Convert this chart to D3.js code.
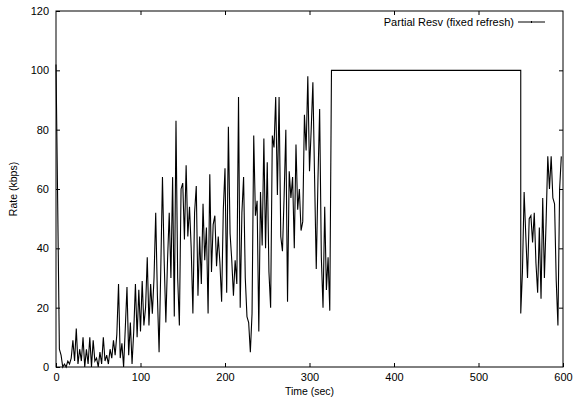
<!DOCTYPE html>
<html>
<head>
<meta charset="utf-8">
<script src="https://cdn.jsdelivr.net/npm/d3@7"></script>
<style>
    body { margin: 0; background: #fff; }
    text { font-family: "Liberation Sans", Arial, sans-serif; font-size: 11px; fill: #000; }
</style>
</head>
<body>
<svg width="573" height="404"></svg>
<script>
// Rate samples (kbps), every 2 sec starting at t = 0
var burstRates = [102, 55, 6, 4, 0, 1, 0, 2, 1, 3, 9, 2, 13, 1, 6, 2, 10, 0, 6, 1,
    10, 0, 9, 2, 3, 0, 5, 1, 10, 2, 4, 1, 6, 3, 9, 4, 11, 28, 3, 8,
    0, 13, 27, 4, 15, 1, 12, 28, 10, 26, 12, 29, 14, 20, 37, 14, 28, 18, 30, 52,
    24, 5, 33, 64, 36, 15, 36, 52, 30, 64, 17, 83, 30, 14, 60, 62, 43, 68, 44, 54,
    40, 18, 52, 61, 24, 44, 28, 55, 36, 47, 18, 65, 32, 48, 51, 34, 44, 35, 22, 53,
    67, 25, 81, 45, 36, 24, 36, 28, 91, 20, 52, 64, 30, 17, 15, 5, 18, 78, 51, 56,
    12, 59, 41, 77, 40, 69, 32, 20, 78, 74, 91, 58, 91, 44, 39, 58, 80, 22, 66, 57,
    64, 40, 75, 53, 60, 46, 49, 85, 73, 98, 66, 80, 96, 64, 33, 63, 87, 37, 20, 54,
    26, 37, 19];
var burstStart = 0;

// Flat reservation period
var holdTimes = [326, 550];
var holdRates = [100, 100];

// Rate samples (kbps), every 2 sec starting at t = 550
var tailRates = [18, 32, 59, 44, 30, 50, 51, 42, 52, 35, 25, 47, 23, 57, 30, 49, 71, 60, 71, 57,
    55, 29, 14, 60, 71];
var tailStart = 550;
var sampleStep = 2;

var xTicks = [0, 100, 200, 300, 400, 500, 600];
var yTicks = [0, 20, 40, 60, 80, 100, 120];
var seriesName = 'Partial Resv (fixed refresh)';

// Build one list of points from the pieces
var points = [];
burstRates.forEach(function(v, i) {
    points.push({time: burstStart + i * sampleStep, rate: v});
});
holdTimes.forEach(function(t, i) {
    points.push({time: t, rate: holdRates[i]});
});
tailRates.forEach(function(v, i) {
    points.push({time: tailStart + i * sampleStep, rate: v});
});

var svg = d3.select('svg');
var svgWidth = +svg.attr('width');
var svgHeight = +svg.attr('height');

var padding = {t: 11, r: 10, b: 37, l: 56};
var chartWidth = svgWidth - padding.l - padding.r;
var chartHeight = svgHeight - padding.t - padding.b;

var chartG = svg.append('g')
    .attr('transform', 'translate(' + [padding.l, padding.t] + ')');

var xScale = d3.scaleLinear().domain([0, 600]).range([0, chartWidth]);
var yScale = d3.scaleLinear().domain([0, 120]).range([chartHeight, 0]);

var tickLen = 4;

// Axes with inward ticks, mirrored on top and right like gnuplot
function styleAxis(g) {
    g.select('.domain').remove();
    g.selectAll('.tick line').attr('stroke', '#000').attr('stroke-width', 1);
}

chartG.append('g')
    .attr('transform', 'translate(0,' + chartHeight + ')')
    .call(d3.axisBottom(xScale).tickValues(xTicks).tickSizeInner(-tickLen).tickSizeOuter(0).tickPadding(6))
    .call(styleAxis);

chartG.append('g')
    .call(d3.axisTop(xScale).tickValues(xTicks.slice(1, -1)).tickSizeInner(-tickLen).tickSizeOuter(0).tickFormat(''))
    .call(styleAxis);

chartG.append('g')
    .call(d3.axisLeft(yScale).tickValues(yTicks).tickSizeInner(-tickLen).tickSizeOuter(0).tickPadding(7))
    .call(styleAxis);

chartG.append('g')
    .attr('transform', 'translate(' + chartWidth + ',0)')
    .call(d3.axisRight(yScale).tickValues(yTicks.slice(1, -1)).tickSizeInner(-tickLen).tickSizeOuter(0).tickFormat(''))
    .call(styleAxis);

chartG.selectAll('.tick text')
    .style('font-family', '"Liberation Sans", Arial, sans-serif')
    .style('font-size', '11px')
    .attr('fill', '#000');

// Data line
var line = d3.line()
    .x(function(d) { return xScale(d.time); })
    .y(function(d) { return yScale(d.rate); });

chartG.append('path')
    .datum(points)
    .attr('fill', 'none')
    .attr('stroke', '#000')
    .attr('stroke-width', 1.1)
    .attr('stroke-linejoin', 'miter')
    .attr('d', line);

// Frame
chartG.append('rect')
    .attr('x', 0)
    .attr('y', 0)
    .attr('width', chartWidth)
    .attr('height', chartHeight)
    .attr('fill', 'none')
    .attr('stroke', '#000')
    .attr('stroke-width', 1);

// Axis titles
svg.append('text')
    .attr('x', padding.l + chartWidth / 2)
    .attr('y', svgHeight - 9)
    .attr('text-anchor', 'middle')
    .style('font-size', '10.5px')
    .text('Time (sec)');

svg.append('text')
    .attr('transform', 'translate(' + [17, padding.t + chartHeight / 2] + ') rotate(-90)')
    .attr('text-anchor', 'middle')
    .style('font-size', '10.5px')
    .text('Rate (kbps)');

// Legend
var legendG = chartG.append('g')
    .attr('transform', 'translate(' + [chartWidth - 49, 11] + ')');

legendG.append('text')
    .attr('x', 0)
    .attr('dy', '0.35em')
    .attr('text-anchor', 'end')
    .text(seriesName);

legendG.append('line')
    .attr('x1', 4).attr('x2', 31)
    .attr('y1', 0).attr('y2', 0)
    .attr('stroke', '#000')
    .attr('stroke-width', 1);

legendG.append('line')
    .attr('x1', 17.5).attr('x2', 17.5)
    .attr('y1', -1).attr('y2', 1)
    .attr('stroke', '#000')
    .attr('stroke-width', 1);
</script>
</body>
</html>
